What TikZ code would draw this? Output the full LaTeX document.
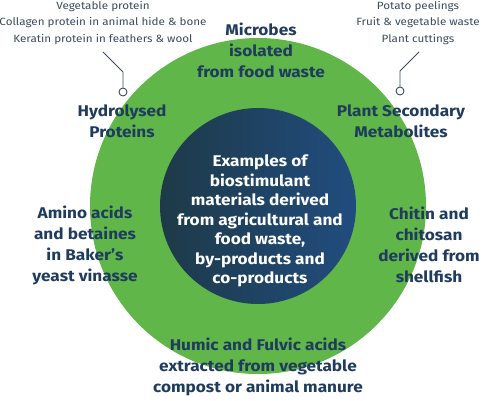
\documentclass[tikz,border=0pt]{standalone}
\usepackage{fontspec}
\setmainfont{Fira Sans}[FakeStretch=1.11]
\usetikzlibrary{positioning}
\definecolor{leafgreen}{RGB}{96,182,72}
\definecolor{navy}{RGB}{31,60,94}
\definecolor{coreleft}{RGB}{30,58,72}
\definecolor{coreright}{RGB}{32,76,126}
\definecolor{notegray}{RGB}{60,74,98}

\begin{document}
\begin{tikzpicture}[
  x=1pt, y=-1pt,
  item/.style={text=navy, font=\fontsize{15.5}{21}\selectfont\bfseries, align=center, inner sep=0pt},
  note/.style={text=notegray, font=\fontsize{10.5}{16.5}\selectfont, align=center, inner sep=0pt},
  knob/.style={circle, draw=notegray, fill=white, line width=0.9pt, inner sep=0pt, minimum size=8pt},
  leader/.style={draw=notegray, line width=0.9pt}
]
\useasboundingbox (0,0) rectangle (484,400);

% rings
\node[circle, fill=leafgreen, minimum size=336pt, inner sep=0pt] (ring) at (258,206) {};
\node[circle, left color=coreleft, right color=coreright, minimum size=196pt, inner sep=0pt] (core) at (258,206) {};
\node[item, text=white, font=\fontsize{15.5}{19.5}\selectfont\bfseries] (title) at (260,221)
  {Examples of\\biostimulant\\materials derived\\from agricultural and\\food waste,\\by-products and\\co-products};

% labels round the ring
\node[item] (microbes) at (261,50) {Microbes\\isolated\\from food waste};
\node[item] (hydro) at (122,121) {Hydrolysed\\Proteins};
\node[item] (plant) at (401,121) {Plant Secondary\\Metabolites};
\node[item] (amino) at (85,245) {Amino acids\\and betaines\\in Baker’s\\yeast vinasse};
\node[item] (chitin) at (429,245) {Chitin and\\chitosan\\derived from\\shellfish};
\node[item] (humic) at (258,367) {Humic and Fulvic acids\\extracted from vegetable\\compost or animal manure};

% notes with leaders
\node[note] (protnote) at (103,23) {Vegetable protein\\Collagen protein in animal hide \& bone\\Keratin protein in feathers \& wool};
\node[note] (plantnote) at (418,23) {Potato peelings\\Fruit \& vegetable waste\\Plant cuttings};
\coordinate (protend) at (103,52);
\coordinate (plantend) at (419,52);
\node[knob] (protknob) at (123,92) {};
\node[knob] (plantknob) at (400,91) {};
\draw[leader] (protend) -- ++(20,20) -- (protknob);
\draw[leader] (plantend) -- ++(-19,19) -- (plantknob);

\end{tikzpicture}
\end{document}
